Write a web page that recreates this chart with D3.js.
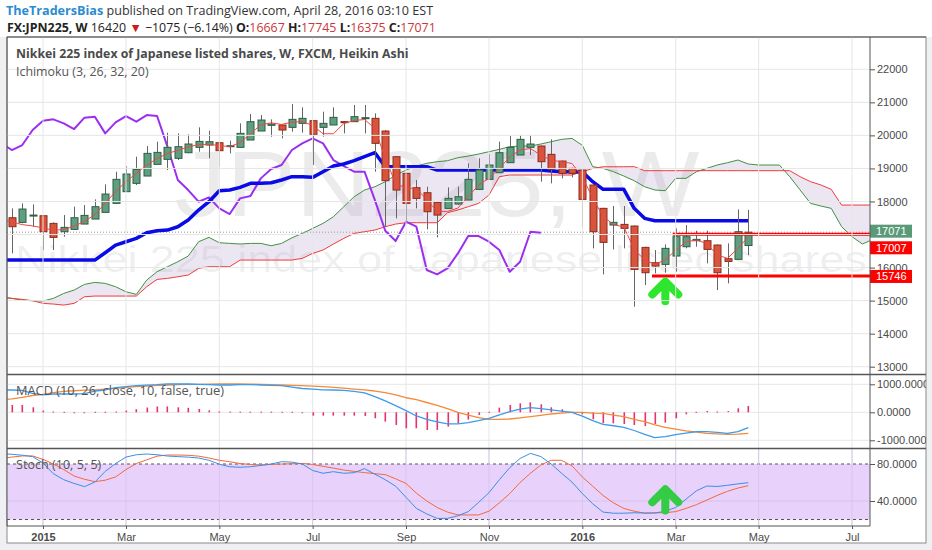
<!DOCTYPE html>
<html>
<head>
<meta charset="utf-8">
<script src="https://cdn.jsdelivr.net/npm/d3@7"></script>
<style>
  body { margin: 0; background: #eef0f2; }
  svg { display: block; }
  text { font-family: "Open Sans", sans-serif; }
  .ax text { font-family: "Liberation Sans", Arial, sans-serif; font-size: 11px; fill: #4a4a4a; }
</style>
</head>
<body>
<svg id="chart"></svg>
<script>
// weekly Heikin Ashi bars, first bar week of 2014-12-15
const barStart = "2014-12-15";
const haOpen = [17508,17367,17559,17569,17337,17085,17156,17317,17468,17670,17943,18296,18548,18770,19123,19275,19305,19476,19638,19708,19779,19658,19638,19860,20132,20304,20314,20243,20364,20445,20243,20314,20415,20415,20505,20516,20132,19355,18851,18417,18265,17973,17791,17922,18043,18366,18669,18871,19174,19406,19638,19678,19426,19224,19002,18952,18498,17792,17287,17307,17257,16611,16147,16096,16349,16631,16813,16813,16682,16268,16248,16667];
const haHigh = [17791,17943,17912,17589,17367,17589,17842,17892,18064,18518,18901,19073,19355,19678,19809,20082,20061,20031,20243,20142,19800,19840,20364,20647,20616,20485,20330,20950,20849,20460,20717,20849,20435,20919,20919,20667,20160,19370,18870,18649,18447,17990,18427,18447,19154,19305,19436,19809,19981,20011,20011,19700,19880,19240,19020,18970,18520,17810,17862,17862,17275,16630,16530,16700,17186,17287,17115,17115,16700,16732,17761,17745];
const haLow = [16429,17340,17236,16530,16530,16933,17156,17317,17468,17670,17943,18296,18498,18770,19123,18952,19254,19456,19507,19305,19053,19456,19638,19860,20132,19960,19910,20112,20082,19103,19960,20314,20061,20415,20061,18901,17236,17488,17337,17791,17156,16913,17791,17900,18043,18366,18669,18871,19174,19406,19406,18598,18548,18699,18729,17236,16581,15794,16550,16581,14815,15471,15824,15844,15874,16581,16631,16127,15319,15521,16248,16375];
const haClose = [17236,17771,17589,17085,16913,17216,17508,17579,17842,18225,18669,18831,18972,19456,19486,19638,19658,19739,19819,19809,19537,19688,20061,20415,20465,20344,20162,20485,20516,20031,20364,20546,20394,20566,20536,19759,18629,18346,17943,18094,17690,17589,18094,18144,18669,18952,19103,19476,19638,19880,19739,19204,18972,18851,18851,18063,17085,16762,17368,17186,15945,15844,16046,16581,16934,16934,16853,16550,15844,16187,17085,17071];

// Ichimoku (3, 26, 32, 20), series start one week earlier
const lineStart = "2014-12-08";
const conversionLine = [17450,17380,17300,17260,17200,17130,17150,17250,17400,17600,17950,18300,18600,18850,19100,19300,19450,19550,19650,19720,19730,19690,19660,19780,20050,20320,20380,20330,20400,20420,20300,20050,20050,20360,20450,20480,20210,19300,18550,18400,18400,18050,17700,17700,17800,18150,18500,18700,19000,19350,19560,19600,19400,19250,19200,19150,18750,18100,17550,17300,17230,16550,16230,16100,16230,16530,16780,16830,16730,16380,16280,16580,16930];
const baseLine = [16227,16227,16227,16227,16227,16227,16227,16227,16227,16227,16449,16681,16782,16883,17055,17115,17135,17236,17438,17741,17993,18326,18346,18427,18548,18548,18568,18649,18750,18750,18730,18901,19073,19133,19234,19355,19476,19053,19053,19053,19053,19053,18951,18951,18951,18951,18951,18951,18951,18951,18951,18951,18951,18920,18900,18900,18900,18599,18367,18367,18367,17792,17489,17418,17418,17418,17418,17418,17418,17418,17418,17418,17418];
const laggingSpan = [19760,19557,19708,20162,20445,20485,20364,20193,20536,20566,20061,20394,20586,20415,20616,20586,19658,18649,18346,17993,18124,17791,17620,18094,18165,18699,18982,19103,19557,19759,19910,19759,19254,19073,18901,18901,18043,17115,16802,17388,17236,15925,15793,15975,16429,16954,16954,16782,16530,15874,16177,17085,17055];
const leadLine1 = [15117,15067,15016,14996,14986,15067,15218,15319,15491,15551,15521,15420,15268,15188,15622,15874,16026,16177,16348,16782,16913,16752,16732,16712,16732,16732,16661,16732,16900,17034,17186,17337,17539,17842,18144,18346,18447,18598,18800,18951,19073,19154,19204,19234,19325,19375,19436,19507,19577,19658,19678,19678,19739,19809,19880,19910,19700,19053,19002,18901,18770,18629,18447,18346,18326,18700,18700,18901,19002,19103,19174,19254,19134,19103,19103,19103,18750,18346,17943,17862,17792,17237,16934,16712,16850];
const leadLine2 = [15097,15067,15037,14996,14916,14896,14865,14916,15117,15138,15138,15138,15138,15138,15420,15642,15672,15723,15773,15975,16026,16026,16026,16227,16227,16227,16227,16227,16227,16278,16429,16530,16712,16883,17034,17085,17135,17236,17317,17357,17357,17357,17357,17660,17741,17842,17943,18195,18750,18800,18800,18800,18800,18800,18800,18800,18900,19000,19050,19050,19050,19053,18932,18932,18932,18932,18932,18932,18932,18932,18932,18932,18932,18932,18932,18932,18932,18750,18599,18500,18367,17892,17892,17892,17892];

// MACD (10, 26, close, 10)
const macdLine = [797,797,780,678,619,654,654,654,670,760,797,880,920,952,970,985,1011,1011,1011,1000,990,975,975,985,990,975,960,952,900,850,830,800,797,780,750,690,560,410,240,60,-131,-250,-340,-410,-410,-369,-300,-214,-90,24,110,167,130,83,40,0,-140,-300,-429,-480,-536,-650,-790,-905,-870,-800,-740,-690,-690,-720,-750,-690,-548];
const signalLine = [440,480,535,600,640,700,749,770,790,800,830,856,890,916,940,960,975,987,995,1000,1005,1011,1011,1011,1005,1000,990,975,965,950,935,916,890,860,830,800,760,700,620,520,450,350,250,130,0,-100,-190,-250,-250,-240,-200,-155,-110,-60,-30,0,0,-30,-36,-100,-155,-250,-333,-450,-536,-600,-667,-710,-750,-770,-786,-780,-750];
const macdHist = [262,262,178,60,8,-10,-30,-30,-25,0,10,60,110,170,210,210,178,160,120,70,12,6,5,4,4,4,-20,-20,-35,-119,-119,-119,-119,-119,-131,-214,-333,-452,-571,-571,-631,-631,-512,-393,-260,-95,0,167,262,321,357,286,178,107,0,-71,-250,-393,-393,-417,-452,-488,-417,-369,-214,-71,-12,48,10,24,143,226];

// Stoch (10, 5, 5)
const stochK = [91,90.5,89.5,88,81,69.5,63,59,55.5,60.5,72,80.5,87.5,90,90.8,90,88.6,88,87.4,86.5,84,79.8,77,76.5,77,78.5,80,82.5,82,80,73,70,71.7,70,70.6,75,69,63,56,44,32,26,21.2,21.2,24,28.5,38.5,49,63,76,86,91.5,88,80,70,60.5,48,37,28,26.8,26.8,27.3,27,27,29,33,42,51,56.2,55.7,57,58.5,59.8];
const stochD = [86,87.5,88.7,88.7,85,80,74,67,63.5,60.9,62.5,66,74,80.5,84.5,88.5,89.7,89.7,89.4,88.5,86.5,84,82.5,80.5,79.5,78.9,79.5,80,80.3,80.7,79.5,77.5,75.5,73.5,72,70.7,69.5,68.5,64,59,48.5,40,33,28,25,24.9,25,29,38,48,60,70,79,84,84,78,66,56,46,38,32,29,26.8,27.2,27.4,28.5,32,36,41,46,50.5,54,56.6];

// axes
const monthTicks = ["2015-01-05","2015-03-02","2015-05-04","2015-07-06","2015-09-07","2015-11-02","2016-01-04","2016-03-07","2016-05-02","2016-07-04"];
const monthLabels = ["2015","Mar","May","Jul","Sep","Nov","2016","Mar","May","Jul"];
const priceTicks = [13000,14000,15000,16000,17000,18000,19000,20000,21000,22000];
const priceLabels = [13000,14000,15000,16000,18000,19000,20000,21000,22000]; // 17000 sits under the tags
const macdTicks = [1000,0,-1000];
const stochTicks = [80,40];

// drawn levels and markers
const lastPrice = 17071;
const levelPrices = [17007, 15746];
const levelStarts = ["2016-03-05", "2016-02-20"];
const arrowDate = "2016-02-29";

const width = 932, height = 550;
const left = 7, axisX = 870, right = 926;
const mainTop = 37, mainBottom = 374.5, macdBottom = 448.5, stochBottom = 526, frameBottom = 543;

const parse = d3.utcParse("%Y-%m-%d");
const week = (start, k) => d3.utcDay.offset(parse(start), 7 * k);
const series = (start, vals) => vals.map((v, k) => ({ date: week(start, k), v }));

const svg = d3.select("#chart").attr("width", width).attr("height", height);

const x = d3.scaleUtc().domain([parse("2015-01-05"), parse("2016-07-04")]).range([43, 852]);
const y = d3.scaleLinear().domain([13000, 22000]).range([366.7, 69.3]);
const yMacd = d3.scaleLinear().domain([-1000, 1000]).range([440.3, 384.3]);
const yStoch = d3.scaleLinear().domain([40, 80]).range([501, 464]);

// backgrounds
svg.append("rect").attr("width", width).attr("height", mainTop).attr("fill", "#fff");
svg.append("rect").attr("x", left).attr("y", mainTop).attr("width", right - left).attr("height", frameBottom - mainTop)
  .attr("fill", "#fff").attr("stroke", "#8a8a8a");

const defs = svg.append("defs");
function clip(id, y0, y1, x1) {
  defs.append("clipPath").attr("id", id).append("rect")
    .attr("x", left).attr("y", y0).attr("width", (x1 || axisX) - left).attr("height", y1 - y0);
  return "url(#" + id + ")";
}
const mainClip = clip("cm", mainTop, mainBottom);
const macdClip = clip("cmacd", mainBottom, macdBottom);
const stochClip = clip("cst", macdBottom, stochBottom);
const axisClip = clip("cax", mainTop, stochBottom, right);

// header
const h1 = svg.append("text").attr("x", 6).attr("y", 15).style("font-size", "12.6px");
h1.append("tspan").attr("font-weight", "bold").attr("fill", "#2b8ccf").text("TheTradersBias");
h1.append("tspan").attr("fill", "#333").text(" published on TradingView.com, April 28, 2016 03:10 EST");

const h2 = svg.append("text").attr("x", 7).attr("y", 31.5).style("font-size", "12.4px").attr("fill", "#222");
h2.append("tspan").attr("font-weight", "bold").text("FX:JPN225, W");
h2.append("tspan").text(" 16420 ");
h2.append("tspan").attr("fill", "#d01818").text("▼");
h2.append("tspan").text(" \u22121075 (\u22126.14%) ");
[["O:", "16667"], [" H:", "17745"], [" L:", "16375"], [" C:", "17071"]].forEach(([k, v]) => {
  h2.append("tspan").attr("font-weight", "bold").text(k);
  h2.append("tspan").attr("fill", "#c8373a").text(v);
});

// main pane
const main = svg.append("g").attr("clip-path", mainClip);

main.append("text").attr("x", 437).attr("y", 216).attr("text-anchor", "middle")
  .attr("textLength", 525).attr("lengthAdjust", "spacingAndGlyphs")
  .style("font-family", "'Liberation Sans', Arial, sans-serif").style("font-size", "92px")
  .attr("fill", "#000").attr("fill-opacity", 0.08).text("JPN225, W");
main.append("text").attr("x", 441).attr("y", 272).attr("text-anchor", "middle")
  .attr("textLength", 852).attr("lengthAdjust", "spacingAndGlyphs")
  .style("font-family", "'Liberation Sans', Arial, sans-serif").style("font-size", "36px")
  .attr("fill", "#000").attr("fill-opacity", 0.08).text("Nikkei 225 index of Japanese listed shares");

// grid
const grid = svg.append("g").attr("stroke", "#e6e6e6").attr("stroke-width", 1);
grid.selectAll(".hg").data(priceTicks).join("line")
  .attr("x1", left).attr("x2", axisX).attr("y1", (d) => y(d)).attr("y2", (d) => y(d));
grid.selectAll(".hm").data(macdTicks).join("line")
  .attr("x1", left).attr("x2", axisX).attr("y1", (d) => yMacd(d)).attr("y2", (d) => yMacd(d));
grid.selectAll(".vg").data(monthTicks).join("line")
  .attr("x1", (d) => x(parse(d))).attr("x2", (d) => x(parse(d))).attr("y1", mainTop).attr("y2", stochBottom);

// cloud
const leadA = series(lineStart, leadLine1);
const leadB = series(lineStart, leadLine2);
const cloud = leadA.map((d, k) => ({ date: d.date, a: d.v, b: leadB[k].v }));
main.append("path").datum(cloud)
  .attr("fill", "#b49ccf").attr("fill-opacity", 0.25)
  .attr("d", d3.area().x((d) => x(d.date)).y0((d) => y(d.b)).y1((d) => y(d.a)));

function drawLine(g, data, color, w, yScale) {
  g.append("path").datum(data).attr("fill", "none").attr("stroke", color).attr("stroke-width", w)
    .attr("stroke-linejoin", "round")
    .attr("d", d3.line().x((d) => x(d.date)).y((d) => (yScale || y)(d.v)));
}
drawLine(main, leadA, "#3f9140", 1);
drawLine(main, leadB, "#f03a3a", 1);

// last price dotted line
main.append("line").attr("x1", left).attr("x2", axisX).attr("y1", y(lastPrice)).attr("y2", y(lastPrice))
  .attr("stroke", "#9a9a9a").attr("stroke-dasharray", "1,2");

drawLine(main, series(lineStart, laggingSpan), "#9b2ff0", 2);
drawLine(main, series(lineStart, baseLine), "#0a0ae6", 3.5);

// candles
const bars = haOpen.map((o, k) => ({ date: week(barStart, k), o, h: haHigh[k], l: haLow[k], c: haClose[k] }));
const candle = main.append("g").selectAll("g").data(bars).join("g");
candle.append("line")
  .attr("x1", (d) => Math.round(x(d.date)) + 0.5).attr("x2", (d) => Math.round(x(d.date)) + 0.5)
  .attr("y1", (d) => y(d.h)).attr("y2", (d) => y(d.l)).attr("stroke", "#666");
candle.append("rect")
  .attr("x", (d) => Math.round(x(d.date)) - 3).attr("width", 7)
  .attr("y", (d) => y(Math.max(d.o, d.c)))
  .attr("height", (d) => Math.max(1, Math.abs(y(d.o) - y(d.c))))
  .attr("fill", (d) => (d.c >= d.o ? "#5f9f7f" : "#d9543c"))
  .attr("stroke", (d) => (d.c >= d.o ? "#2f5e44" : "#8a2c1c"));

drawLine(main, series(lineStart, conversionLine), "#f04444", 1);

// horizontal levels
main.selectAll(".lvl").data(levelPrices).join("line")
  .attr("x1", (d, k) => x(parse(levelStarts[k]))).attr("x2", axisX)
  .attr("y1", (d) => y(d)).attr("y2", (d) => y(d))
  .attr("stroke", "#ff0000").attr("stroke-width", 3);

// arrows
function arrow(g, cx, tip, bottom, color) {
  g.append("path")
    .attr("d", `M${cx - 13},${tip + 13}L${cx},${tip}L${cx + 13},${tip + 13}M${cx},${tip + 1}L${cx},${bottom}`)
    .attr("fill", "none").attr("stroke", color).attr("stroke-width", 8)
    .attr("stroke-linecap", "round").attr("stroke-linejoin", "round");
}
arrow(main, x(parse(arrowDate)), y(15700) + 4, y(14860) - 4, "#2fe62f");

// titles
svg.append("text").attr("x", 16).attr("y", 58).style("font-size", "12.3px").attr("font-weight", "bold")
  .attr("fill", "#4a4a4a").text("Nikkei 225 index of Japanese listed shares, W, FXCM, Heikin Ashi");
svg.append("text").attr("x", 16).attr("y", 76).style("font-size", "12.4px")
  .attr("fill", "#555").text("Ichimoku (3, 26, 32, 20)");

// MACD pane
const macdG = svg.append("g").attr("clip-path", macdClip);
macdG.selectAll("rect").data(series(barStart, macdHist)).join("rect")
  .attr("x", (d) => Math.round(x(d.date)) - 0.5).attr("width", 1.6)
  .attr("y", (d) => Math.min(yMacd(d.v), yMacd(0)) - (Math.abs(d.v) < 30 ? 0.5 : 0))
  .attr("height", (d) => Math.max(1, Math.abs(yMacd(d.v) - yMacd(0))))
  .attr("fill", "#e5336c");
drawLine(macdG, series(lineStart, signalLine), "#f58a3a", 1.3, yMacd);
drawLine(macdG, series(lineStart, macdLine), "#3d9be9", 1.3, yMacd);
svg.append("text").attr("x", 16).attr("y", 395).style("font-size", "12.8px")
  .attr("fill", "#555").text("MACD (10, 26, close, 10, false, true)");

// Stoch pane
const stG = svg.append("g").attr("clip-path", stochClip);
stG.append("rect").attr("x", left).attr("width", axisX - left)
  .attr("y", yStoch(80)).attr("height", yStoch(20) - yStoch(80)).attr("fill", "#e8d2fb");
stG.append("line").attr("x1", left).attr("x2", axisX).attr("y1", yStoch(40)).attr("y2", yStoch(40))
  .attr("stroke", "#d6c2ea");
stG.selectAll(".dash").data([80, 20]).join("line")
  .attr("x1", left).attr("x2", axisX).attr("y1", (d) => yStoch(d)).attr("y2", (d) => yStoch(d))
  .attr("stroke", "#555").attr("stroke-dasharray", "3,3");
stG.selectAll(".vg2").data(monthTicks).join("line")
  .attr("x1", (d) => x(parse(d))).attr("x2", (d) => x(parse(d))).attr("y1", macdBottom).attr("y2", stochBottom)
  .attr("stroke", "#d8c6ea");
drawLine(stG, series(lineStart, stochD), "#f2683c", 1, yStoch);
drawLine(stG, series(lineStart, stochK), "#3a8ee6", 1, yStoch);
arrow(stG, x(parse(arrowDate)), yStoch(57) + 4, yStoch(25.5) - 4, "#33cc44");
svg.append("text").attr("x", 16).attr("y", 469).style("font-size", "12.6px")
  .attr("fill", "#555").text("Stoch (10, 5, 5)");

// axes
const axG = svg.append("g").attr("clip-path", axisClip);
axG.append("g").attr("class", "ax").attr("transform", `translate(${axisX},0)`)
  .call(d3.axisRight(y).tickValues(priceTicks).tickSize(5).tickPadding(2)
    .tickFormat((d) => (priceLabels.includes(d) ? d3.format("d")(d) : "")))
  .call((g) => g.select(".domain").remove());
axG.append("g").attr("class", "ax").attr("transform", `translate(${axisX},0)`)
  .call(d3.axisRight(yMacd).tickValues(macdTicks).tickSize(5).tickPadding(2).tickFormat((d) => d.toFixed(4)))
  .call((g) => g.select(".domain").remove());
axG.append("g").attr("class", "ax").attr("transform", `translate(${axisX},0)`)
  .call(d3.axisRight(yStoch).tickValues(stochTicks).tickSize(5).tickPadding(2).tickFormat((d) => d.toFixed(4)))
  .call((g) => g.select(".domain").remove());
svg.selectAll(".ax .tick line").attr("stroke", "#555");

// price labels on the axis
const tags = [
  { v: lastPrice, cy: y(lastPrice) - 1, fill: "#5b9a78" },
  { v: levelPrices[0], cy: y(levelPrices[0]) + 13.5, fill: "#ff0000" },
  { v: levelPrices[1], cy: y(levelPrices[1]) + 0.5, fill: "#ff0000" },
];
const tag = axG.selectAll(".tag").data(tags).join("g");
tag.append("rect").attr("x", axisX).attr("width", 42).attr("y", (d) => d.cy - 6.5).attr("height", 13)
  .attr("fill", (d) => d.fill);
tag.append("text").attr("x", axisX + 6).attr("y", (d) => d.cy + 4)
  .style("font-family", "'Liberation Sans', Arial, sans-serif").style("font-size", "11px")
  .attr("fill", "#fff").text((d) => d.v);

// time axis
const xAxis = svg.append("g").attr("class", "ax").attr("transform", `translate(0,${stochBottom})`)
  .call(d3.axisBottom(x).tickValues(monthTicks.map(parse)).tickSize(3).tickPadding(4)
    .tickFormat((d, k) => monthLabels[k]));
xAxis.select(".domain").remove();
xAxis.selectAll(".tick text").attr("font-weight", (d, k) => (/^\d/.test(monthLabels[k]) ? "bold" : "normal"));
xAxis.selectAll(".tick line").attr("stroke", "#555");

// pane borders
const border = svg.append("g").attr("stroke", "#555");
border.append("line").attr("x1", left).attr("x2", right).attr("y1", mainTop).attr("y2", mainTop);
border.append("line").attr("x1", left).attr("x2", right).attr("y1", mainBottom).attr("y2", mainBottom).attr("stroke-width", 1.5);
border.append("line").attr("x1", left).attr("x2", right).attr("y1", macdBottom).attr("y2", macdBottom).attr("stroke-width", 1.5);
border.append("line").attr("x1", left).attr("x2", axisX).attr("y1", stochBottom).attr("y2", stochBottom);
border.append("line").attr("x1", axisX).attr("x2", axisX).attr("y1", mainTop).attr("y2", stochBottom);
border.append("line").attr("x1", left).attr("x2", left).attr("y1", mainTop).attr("y2", stochBottom);
</script>
</body>
</html>
